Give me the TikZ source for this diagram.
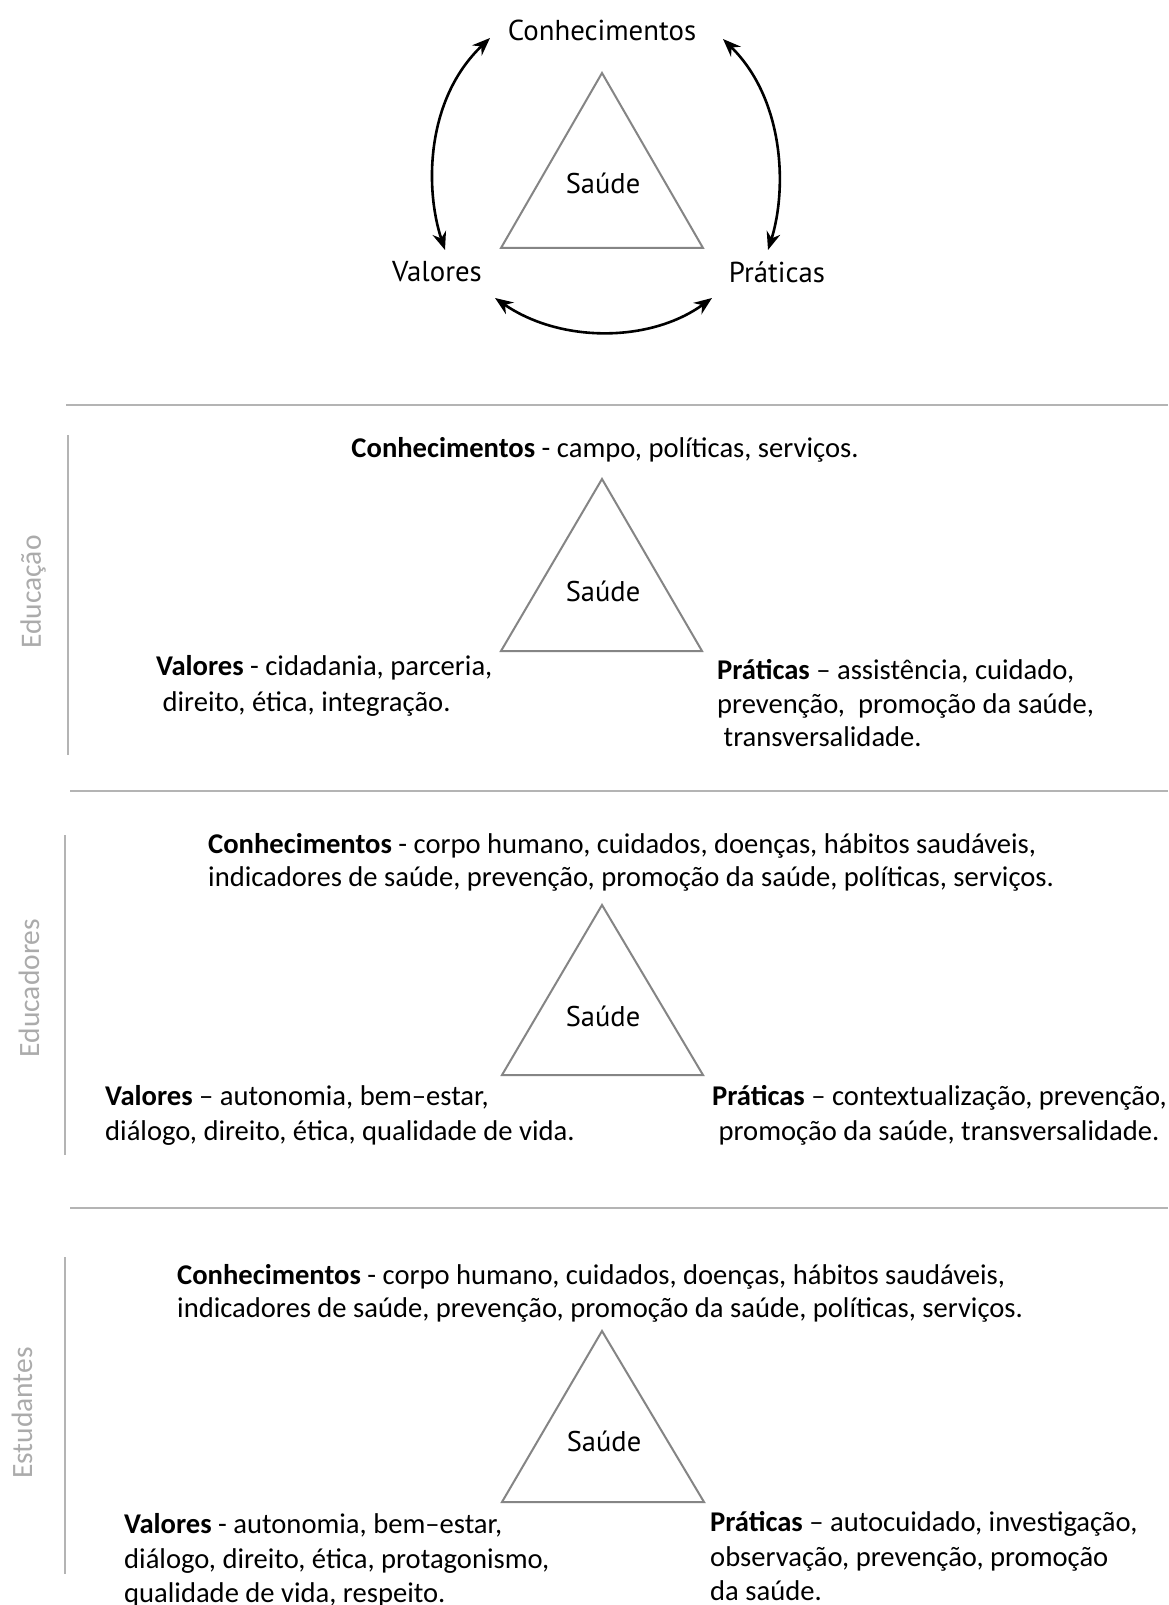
\documentclass[tikz,border=0pt]{standalone}
\usepackage{fontspec}
\setmainfont{Carlito}
\newfontfamily\myr{PT Sans}
\usetikzlibrary{arrows.meta}
\definecolor{trigray}{HTML}{858585}
\definecolor{sepgray}{HTML}{B4B4B4}
\definecolor{lblgray}{HTML}{ABABAB}
\tikzset{
  tri/.style={draw=trigray, line width=2pt, line join=miter},
  sep/.style={draw=sepgray, line width=2.4pt},
  side/.style={font=\fontsize{29.5}{34}\selectfont, text=lblgray, rotate=90, inner sep=0pt},
  txt/.style={font=\fontsize{28.6}{34}\selectfont, anchor=base west, inner sep=0pt},
  ctxt/.style={font=\fontsize{28.6}{34}\selectfont, anchor=base, inner sep=0pt},
  sau/.style={font=\myr\fontsize{28.5}{34}\selectfont, inner sep=0pt},
  toplbl/.style={font=\myr\fontsize{28.8}{34}\selectfont, inner sep=0pt},
  cyc/.style={line width=2.6pt, {Stealth[length=18pt,width=14pt]}-{Stealth[length=18pt,width=14pt]}},
}
\begin{document}
\begin{tikzpicture}[x=1pt,y=-1pt]
\useasboundingbox (0,0) rectangle (1168,1605);
\fill[white] (0,0) rectangle (1168,1605);

% ---------- top cycle ----------
\node[toplbl] (kc) at (602,30) {Conhecimentos};
\node[toplbl] (kv) at (437,272) {Valores};
\node[toplbl] (kp) at (777,272) {Práticas};
\draw[tri] (602,73) -- (501,248) -- (703,248) -- cycle;
\node[sau] (ks) at (603,183) {Saúde};
\coordinate (a1) at (490,38);
\coordinate (a2) at (445,250);
\coordinate (b1) at (723,39);
\coordinate (b2) at (768,250);
\coordinate (c1) at (495,298);
\coordinate (c2) at (712,298);
\draw[cyc] (a2) .. controls (425,190) and (425,100) .. (a1);
\draw[cyc] (b1) .. controls (785,100) and (787,190) .. (b2);
\draw[cyc] (c1) .. controls (560,343) and (650,343) .. (c2);

% ---------- separators ----------
\draw[sep] (66,405) -- (1168,405);
\draw[sep] (70,791) -- (1168,791);
\draw[sep] (70,1208) -- (1168,1208);
\draw[sep] (68,435) -- (68,755);
\draw[sep] (65,835) -- (65,1155);
\draw[sep] (65,1257) -- (65,1574);
\node[side] (s1) at (33,592) {Educação};
\node[side] (s2) at (29,988) {Educadores};
\node[side] (s3) at (22,1413) {Estudantes};

% ---------- Educação ----------
\node[ctxt] (e1k) at (605,457) {\textbf{Conhecimentos} - campo, políticas, serviços.};
\draw[tri] (602,479) -- (501,651) -- (702,651) -- cycle;
\node[sau] (e1s) at (603,591) {Saúde};
\node[txt] (e1v1) at (156,675) {\textbf{Valores} - cidadania, parceria,};
\node[txt] (e1v2) at (156,711) {\ direito, ética, integração.};
\node[txt] (e1p1) at (717,679) {\textbf{Práticas} – assistência, cuidado,};
\node[txt] (e1p2) at (717,713) {prevenção,\ \ promoção da saúde,};
\node[txt] (e1p3) at (717,746) {\ transversalidade.};

% ---------- Educadores ----------
\node[txt] (e2k1) at (208,853) {\textbf{Conhecimentos} - corpo humano, cuidados, doenças, hábitos saudáveis,};
\node[txt] (e2k2) at (208,886) {indicadores de saúde, prevenção, promoção da saúde, políticas, serviços.};
\draw[tri] (602,905) -- (502,1075) -- (703,1075) -- cycle;
\node[sau] (e2s) at (603,1016) {Saúde};
\node[txt] (e2v1) at (105,1105) {\textbf{Valores} – autonomia, bem–estar,};
\node[txt] (e2v2) at (105,1140) {diálogo, direito, ética, qualidade de vida.};
\node[txt] (e2p1) at (712,1105) {\textbf{Práticas} – contextualização, prevenção,};
\node[txt] (e2p2) at (712,1140) {\ promoção da saúde, transversalidade.};

% ---------- Estudantes ----------
\node[txt] (e3k1) at (177,1284) {\textbf{Conhecimentos} - corpo humano, cuidados, doenças, hábitos saudáveis,};
\node[txt] (e3k2) at (177,1317) {indicadores de saúde, prevenção, promoção da saúde, políticas, serviços.};
\draw[tri] (602,1331) -- (502,1502) -- (704,1502) -- cycle;
\node[sau] (e3s) at (604,1441) {Saúde};
\node[txt] (e3v1) at (124,1533) {\textbf{Valores} - autonomia, bem–estar,};
\node[txt] (e3v2) at (124,1568) {diálogo, direito, ética, protagonismo,};
\node[txt] (e3v3) at (124,1602) {qualidade de vida, respeito.};
\node[txt] (e3p1) at (710,1531) {\textbf{Práticas} – autocuidado, investigação,};
\node[txt] (e3p2) at (710,1566) {observação, prevenção, promoção};
\node[txt] (e3p3) at (710,1600) {da saúde.};
\end{tikzpicture}
\end{document}
